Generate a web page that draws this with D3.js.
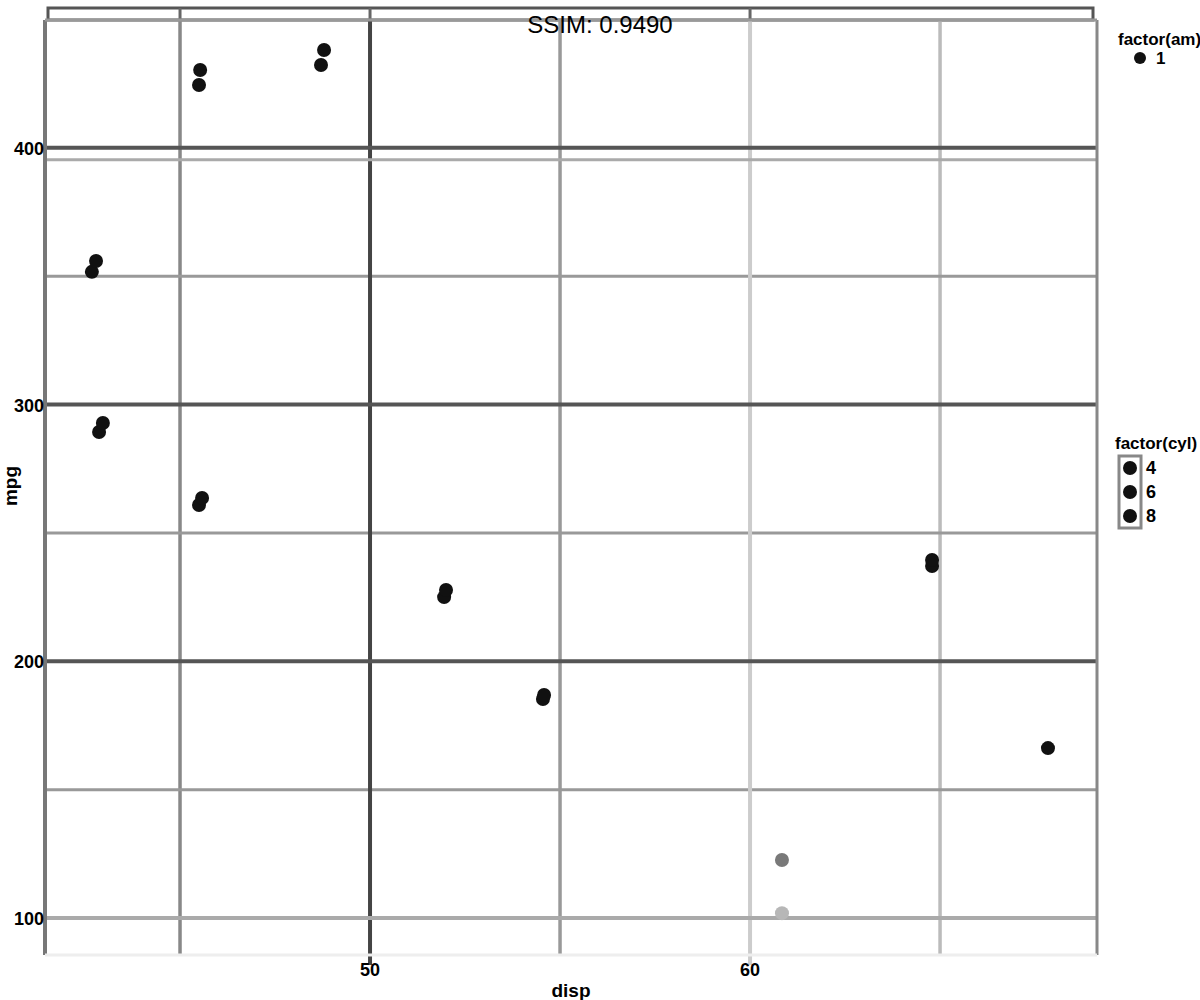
<!DOCTYPE html>
<html><head><meta charset="utf-8">
<script src="https://cdn.jsdelivr.net/npm/d3@7"></script>
<style>body{margin:0;background:#fff;} text{font-family:"Liberation Sans",Arial,sans-serif;}</style>
</head><body>
<svg id="c" width="1200" height="1000"></svg>
<script>
// ---- data ----
const xMajorTicks = [50, 60];
const xMinorTicks = [45, 55, 65];
const yMajorTicks = [100, 200, 300, 400];
const yMinorTicks = [150, 250, 350];
const xA = [45.53, 48.79, 42.79, 42.97, 45.58, 52.00, 54.58, 64.79, 67.84, 60.84, 60.84];
const yA = [430.3, 438.1, 355.9, 292.8, 263.6, 227.8, 186.9, 239.5, 166.2, 122.6, 101.9];
const xB = [45.50, 48.71, 42.68, 42.87, 45.50, 51.95, 54.55, 64.79];
const yB = [424.5, 432.3, 351.7, 289.3, 260.9, 225.0, 185.3, 237.1];
const shade = [0, 0, 0, 0, 0, 0, 0, 0, 0, 0.5, 0.8];
const legend1Title = "factor(am)";
const legend1Labels = ["1"];
const legend2Title = "factor(cyl)";
const legend2Labels = ["4", "6", "8"];
const xTitle = "disp";
const yTitle = "mpg";

const svg = d3.select("#c");
const L = 45, R = 1097, T = 20, B = 955;
const x = d3.scaleLinear().domain([41.447, 69.13]).range([L, R]);
const y = d3.scaleLinear().domain([85.6, 449.8]).range([B, T]);
const gray = d3.scaleLinear().domain([0, 1]).range(["#111", "#e0e0e0"]);

// top strip
svg.append("rect").attr("x", 48).attr("y", 8).attr("width", 1045).attr("height", 12)
  .attr("fill", "#fff").attr("stroke", "#555").attr("stroke-width", 3);
svg.selectAll(".sv").data([45, 50, 60]).join("line")
  .attr("x1", d => x(d)).attr("x2", d => x(d)).attr("y1", 8).attr("y2", T)
  .attr("stroke", "#666").attr("stroke-width", 3);

const g = svg.append("g");
// minor grid
const minorV = {45: "#888", 55: "#999", 65: "#bbb"};
g.selectAll(".mv").data(xMinorTicks).join("line")
  .attr("x1", d => x(d)).attr("x2", d => x(d)).attr("y1", T).attr("y2", B)
  .attr("stroke", d => minorV[d]).attr("stroke-width", 3.5);
g.selectAll(".mh").data(yMinorTicks).join("line")
  .attr("x1", L).attr("x2", R).attr("y1", d => y(d)).attr("y2", d => y(d))
  .attr("stroke", "#999").attr("stroke-width", 3);
// major grid
const majorV = {50: "#444", 60: "#ccc"};
g.selectAll(".Mv").data(xMajorTicks).join("line")
  .attr("x1", d => x(d)).attr("x2", d => x(d)).attr("y1", T).attr("y2", B + 10)
  .attr("stroke", d => majorV[d]).attr("stroke-width", 4);
g.selectAll(".Mh").data(yMajorTicks).join("line")
  .attr("x1", L).attr("x2", R).attr("y1", d => y(d)).attr("y2", d => y(d))
  .attr("stroke", d => d === 100 ? "#aaa" : "#555").attr("stroke-width", 4);
// second line near the top gridline
g.append("line").attr("x1", L).attr("x2", R).attr("y1", y(400) + 12).attr("y2", y(400) + 12)
  .attr("stroke", "#aaa").attr("stroke-width", 3);

// panel border
g.append("line").attr("x1", L).attr("x2", L).attr("y1", T).attr("y2", B).attr("stroke", "#777").attr("stroke-width", 4);
g.append("line").attr("x1", R).attr("x2", R).attr("y1", T).attr("y2", B).attr("stroke", "#888").attr("stroke-width", 3);
g.append("line").attr("x1", L).attr("x2", R).attr("y1", T).attr("y2", T).attr("stroke", "#999").attr("stroke-width", 3);
g.append("line").attr("x1", L).attr("x2", R).attr("y1", B).attr("y2", B).attr("stroke", "#eee").attr("stroke-width", 3);

// points
const ptsB = xB.map((v, i) => ({x: v, y: yB[i], s: shade[i]}));
const ptsA = xA.map((v, i) => ({x: v, y: yA[i], s: shade[i]}));
g.selectAll(".pb").data(ptsB).join("circle")
  .attr("cx", d => x(d.x)).attr("cy", d => y(d.y)).attr("r", 7)
  .attr("fill", d => gray(d.s));
g.selectAll(".pa").data(ptsA).join("circle")
  .attr("cx", d => x(d.x)).attr("cy", d => y(d.y)).attr("r", 7)
  .attr("fill", d => gray(d.s));

// axis labels
const lab = svg.append("g").attr("font-weight", "bold").attr("fill", "#000");
lab.selectAll(".yl").data(yMajorTicks).join("text")
  .attr("x", 44).attr("y", d => y(d) + 7).attr("text-anchor", "end")
  .attr("font-size", 18).text(d => d);
lab.selectAll(".xl").data(xMajorTicks).join("text")
  .attr("x", d => x(d)).attr("y", 976).attr("text-anchor", "middle")
  .attr("font-size", 18).text(d => d);
lab.append("text").attr("x", 571).attr("y", 997).attr("text-anchor", "middle")
  .attr("font-size", 19).text(xTitle);
lab.append("text").attr("transform", "translate(17,486) rotate(-90)").attr("text-anchor", "middle")
  .attr("font-size", 19).text(yTitle);

// legend 1
const lg1 = svg.append("g");
lg1.append("text").attr("x", 1118).attr("y", 45).attr("font-size", 17).attr("font-weight", "bold").text(legend1Title);
lg1.selectAll("circle").data(legend1Labels).join("circle")
  .attr("cx", 1140).attr("cy", 58).attr("r", 6).attr("fill", "#111");
lg1.selectAll(".t").data(legend1Labels).join("text")
  .attr("x", 1156).attr("y", 64).attr("font-size", 17).attr("font-weight", "bold").text(d => d);

// legend 2
const lg2 = svg.append("g");
lg2.append("text").attr("x", 1115).attr("y", 449).attr("font-size", 17).attr("font-weight", "bold").text(legend2Title);
lg2.append("rect").attr("x", 1119).attr("y", 456).attr("width", 22).attr("height", 72)
  .attr("fill", "none").attr("stroke", "#888").attr("stroke-width", 3);
lg2.selectAll("circle").data(legend2Labels).join("circle")
  .attr("cx", 1130).attr("cy", (d, i) => 468 + i * 24).attr("r", 7).attr("fill", "#111");
lg2.selectAll(".t").data(legend2Labels).join("text")
  .attr("x", 1146).attr("y", (d, i) => 474 + i * 24).attr("font-size", 18).attr("font-weight", "bold").text(d => d);

// title text
svg.append("text").attr("x", 600).attr("y", 33).attr("text-anchor", "middle")
  .attr("font-size", 24).attr("fill", "#000").text("SSIM: 0.9490");
</script>
</body></html>
